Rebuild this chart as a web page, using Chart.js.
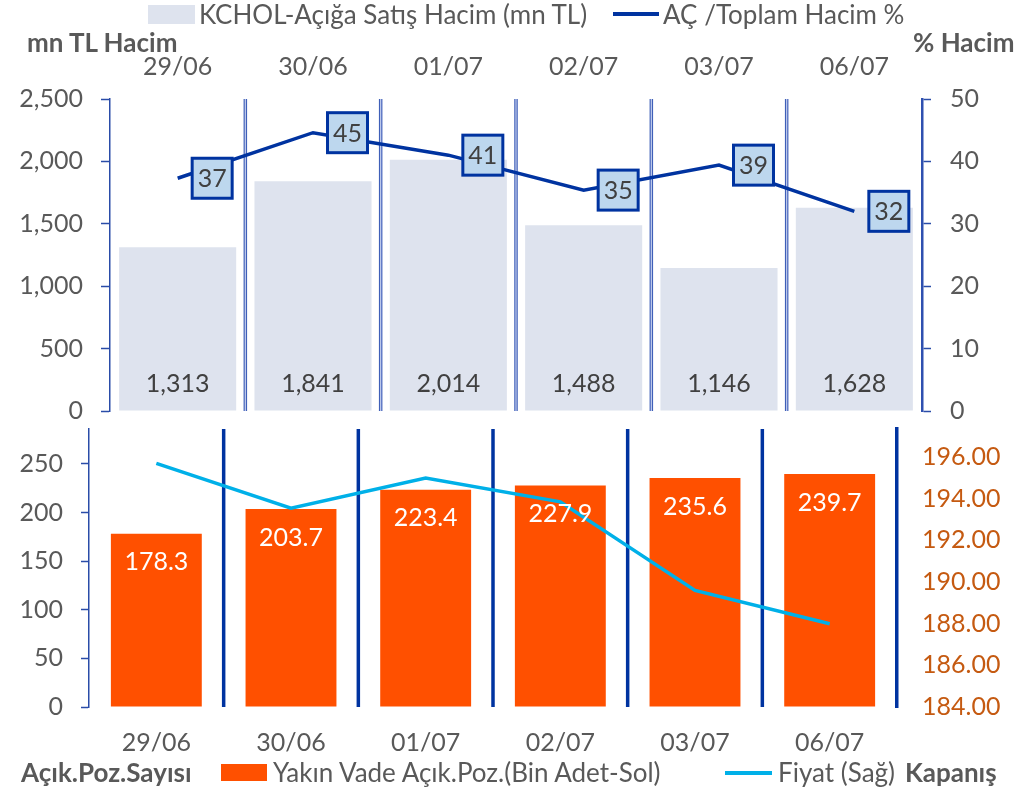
<!DOCTYPE html>
<html>
<head>
<meta charset="utf-8">
<script src="https://cdn.jsdelivr.net/npm/chart.js@4.4.1/dist/chart.umd.min.js"></script>
<style>
  html,body{margin:0;padding:0;background:#fff;}
  body{width:1030px;height:791px;position:relative;overflow:hidden;font-family:Lato, "Liberation Sans", sans-serif;}
  canvas{position:absolute;left:0;}
  #c1{top:0;}
  #c2{top:400px;}
  .t{position:absolute;white-space:nowrap;color:#595959;font-size:26px;line-height:26px;transform:translateY(-50%);}
  .b{font-weight:bold;}
  .sw{position:absolute;}
</style>
</head>
<body>
<canvas id="c1" width="1030" height="440"></canvas>
<canvas id="c2" width="1030" height="391"></canvas>

<div class="sw" style="left:148px;top:5px;width:47px;height:19px;background:#dee3ee;"></div>
<div class="t" style="left:199px;top:14px;">KCHOL-Açığa Satış Hacim (mn TL)</div>
<div class="sw" style="left:613px;top:12px;width:46px;height:3.5px;background:#0033a0;"></div>
<div class="t" style="left:663px;top:14px;">AÇ /Toplam Hacim %</div>
<div class="t b" style="left:27px;top:42px;">mn TL Hacim</div>
<div class="t b" style="left:913px;top:42px;">% Hacim</div>

<div class="t b" style="left:21px;top:772px;">Açık.Poz.Sayısı</div>
<div class="sw" style="left:221px;top:764px;width:46px;height:17px;background:#ff5000;"></div>
<div class="t" style="left:273px;top:772px;">Yakın Vade Açık.Poz.(Bin Adet-Sol)</div>
<div class="sw" style="left:725px;top:771px;width:47px;height:3.5px;background:#00b0e8;"></div>
<div class="t" style="left:778px;top:772px;">Fiyat (Sağ)</div>
<div class="t b" style="left:905px;top:772px;">Kapanış</div>

<script>
// ---- data ----
const dates = ['29/06', '30/06', '01/07', '02/07', '03/07', '06/07'];
const shortVolume = [1313, 1841, 2014, 1488, 1146, 1628];      // mn TL
const shortRatio = [37.3, 44.6, 41.0, 35.4, 39.4, 32.0];       // %
const openPositions = [178.3, 203.7, 223.4, 227.9, 235.6, 239.7]; // bin adet
const closePrice = [195.7, 193.55, 195.0, 193.85, 189.6, 188.0];

const FONT = 'Lato';
const GRAY = '#595959';
const AXIS_BLUE = '#2a4ca8';

function noPad(s) { s.paddingTop = 0; s.paddingBottom = 0; }

// separators between categories
function separatorPlugin(style) {
  return {
    id: 'sep_' + style,
    beforeDatasetsDraw(chart) {
      const xs = chart.scales.x, a = chart.chartArea, ctx = chart.ctx;
      ctx.save();
      for (let i = 0; i < dates.length - 1; i++) {
        const x = (xs.getPixelForValue(i) + xs.getPixelForValue(i + 1)) / 2;
        if (style === 'double') {
          ctx.strokeStyle = '#3f5fb8'; ctx.lineWidth = 3.5;
          ctx.beginPath(); ctx.moveTo(x, a.top); ctx.lineTo(x, a.bottom); ctx.stroke();
          ctx.strokeStyle = '#c5cfee'; ctx.lineWidth = 1.2;
          ctx.beginPath(); ctx.moveTo(x, a.top); ctx.lineTo(x, a.bottom); ctx.stroke();
        } else {
          ctx.strokeStyle = '#0033a0'; ctx.lineWidth = 3.5;
          ctx.beginPath(); ctx.moveTo(x, a.top); ctx.lineTo(x, a.bottom); ctx.stroke();
        }
      }
      ctx.restore();
    }
  };
}

const topLabels = {
  id: 'topLabels',
  afterDatasetsDraw(chart) {
    const ctx = chart.ctx;
    const lineMeta = chart.getDatasetMeta(0), barMeta = chart.getDatasetMeta(1);
    ctx.save();
    ctx.font = '25px ' + FONT;
    ctx.textAlign = 'center'; ctx.textBaseline = 'middle';
    barMeta.data.forEach((el, i) => {
      ctx.fillStyle = '#404040';
      ctx.fillText(shortVolume[i].toLocaleString('en-US'), el.x, chart.chartArea.bottom - 27);
    });
    lineMeta.data.forEach((el, i) => {
      const w = 40, h = 40, x0 = el.x + 14.5, y0 = el.y - h / 2;
      ctx.fillStyle = '#bdd7ee'; ctx.fillRect(x0, y0, w, h);
      ctx.strokeStyle = '#0033a0'; ctx.lineWidth = 3; ctx.strokeRect(x0, y0, w, h);
      ctx.fillStyle = '#404040';
      ctx.fillText(String(Math.round(shortRatio[i])), x0 + w / 2, y0 + h / 2 + 1);
    });
    ctx.restore();
  }
};

const bottomLabels = {
  id: 'bottomLabels',
  afterDatasetsDraw(chart) {
    const ctx = chart.ctx;
    const barMeta = chart.getDatasetMeta(1);
    ctx.save();
    ctx.font = '25px ' + FONT;
    ctx.textAlign = 'center'; ctx.textBaseline = 'middle';
    ctx.fillStyle = '#ffffff';
    barMeta.data.forEach((el, i) => {
      ctx.fillText(openPositions[i].toFixed(1), el.x, el.y + 28.5);
    });
    ctx.restore();
  }
};

const tickFont = { family: FONT, size: 25 };

new Chart(document.getElementById('c1'), {
  type: 'bar',
  data: {
    labels: dates,
    datasets: [
      { type: 'line', label: 'AÇ /Toplam Hacim %', data: shortRatio, yAxisID: 'y2',
        borderColor: '#0033a0', borderWidth: 3.5, pointRadius: 0, tension: 0, order: 0 },
      { type: 'bar', label: 'KCHOL-Açığa Satış Hacim (mn TL)', data: shortVolume, yAxisID: 'y',
        backgroundColor: '#dee3ee', barPercentage: 0.865, categoryPercentage: 1, order: 1 }
    ]
  },
  options: {
    responsive: false, animation: false,
    layout: { padding: { top: 0, bottom: 29, left: 0, right: 0 } },
    plugins: { legend: { display: false }, tooltip: { enabled: false } },
    scales: {
      x: {
        position: 'top', offset: true,
        grid: { display: false, drawTicks: false },
        border: { display: false },
        ticks: { color: GRAY, font: tickFont, padding: 17, maxRotation: 0 },
        afterFit: s => { s.height = 99; s.paddingLeft = 0; s.paddingRight = 0; }
      },
      y: {
        position: 'left', min: 0, max: 2500,
        grid: { drawOnChartArea: false, drawTicks: true, tickLength: 9, tickColor: AXIS_BLUE, tickWidth: 1.5 },
        border: { color: AXIS_BLUE, width: 1.5 },
        ticks: { stepSize: 500, color: GRAY, font: tickFont, padding: 18,
                 callback: v => Number(v).toLocaleString('en-US') },
        afterFit: s => { s.width = 110; noPad(s); }
      },
      y2: {
        position: 'right', min: 0, max: 50,
        grid: { drawOnChartArea: false, drawTicks: true, tickLength: 9, tickColor: AXIS_BLUE, tickWidth: 1.5 },
        border: { color: '#2f50b0', width: 2.5 },
        ticks: { stepSize: 10, color: GRAY, font: tickFont, padding: 19 },
        afterFit: s => { s.width = 108; noPad(s); }
      }
    }
  },
  plugins: [separatorPlugin('double'), topLabels]
});

new Chart(document.getElementById('c2'), {
  type: 'bar',
  data: {
    labels: dates,
    datasets: [
      { type: 'line', label: 'Fiyat (Sağ)', data: closePrice, yAxisID: 'y2',
        borderColor: '#00b0e8', borderWidth: 3.5, pointRadius: 0, tension: 0, order: 0 },
      { type: 'bar', label: 'Yakın Vade Açık.Poz.(Bin Adet-Sol)', data: openPositions, yAxisID: 'y',
        backgroundColor: '#ff5000', barPercentage: 0.675, categoryPercentage: 1, order: 1 }
    ]
  },
  options: {
    responsive: false, animation: false,
    layout: { padding: { top: 29, bottom: 0, left: 0, right: 0 } },
    plugins: { legend: { display: false }, tooltip: { enabled: false } },
    scales: {
      x: {
        position: 'bottom', offset: true,
        grid: { display: false, drawTicks: false },
        border: { display: false },
        ticks: { color: GRAY, font: tickFont, padding: 21, maxRotation: 0 },
        afterFit: s => { s.height = 84; s.paddingLeft = 0; s.paddingRight = 0; }
      },
      y: {
        position: 'left', min: 0, max: 286,
        grid: { drawOnChartArea: false, drawTicks: true, tickLength: 8, tickColor: AXIS_BLUE, tickWidth: 1.5 },
        border: { color: AXIS_BLUE, width: 1.5 },
        ticks: { stepSize: 50, includeBounds: false, color: GRAY, font: tickFont, padding: 18 },
        afterFit: s => { s.width = 89; noPad(s); }
      },
      y2: {
        position: 'right', min: 184, max: 197.35,
        grid: { drawOnChartArea: false, drawTicks: false },
        border: { color: '#0033a0', width: 3.5 },
        ticks: { stepSize: 2, includeBounds: false, color: '#c55a11', font: tickFont, padding: 25,
                 callback: v => Number(v).toFixed(2) },
        afterFit: s => { s.width = 133; noPad(s); }
      }
    }
  },
  plugins: [separatorPlugin('solid'), bottomLabels]
});
</script>
</body>
</html>
